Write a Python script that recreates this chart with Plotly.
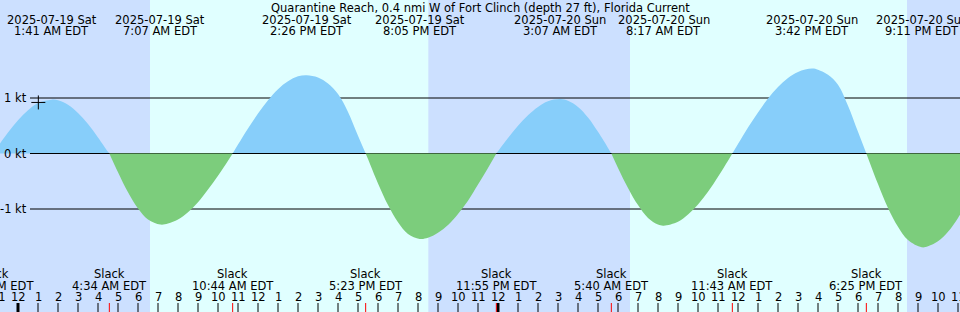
import pandas as pd
import plotly.graph_objects as go

TITLE = "Quarantine Reach, 0.4 nmi W of Fort Clinch (depth 27 ft), Florida Current"
X_START = "2025-07-18 23:06"
X_END = "2025-07-20 23:06"

# half-hourly readings of the current (knots)
sample_times = pd.date_range("2025-07-18 23:00", "2025-07-21 00:00", freq="30min")
speed_kt = [0.13, 0.38, 0.60, 0.78, 0.91, 0.97, 0.96, 0.88, 0.73, 0.53, 0.29, 0.03,
            -0.34, -0.70, -0.99, -1.19, -1.28, -1.26, -1.19, -1.06, -0.88, -0.65, -0.40, -0.13,
            0.16, 0.45, 0.72, 0.96, 1.16, 1.30, 1.39, 1.41, 1.37, 1.26, 1.07, 0.75, 0.32,
            -0.10, -0.54, -0.93, -1.24, -1.45, -1.54, -1.52, -1.43, -1.29, -1.09, -0.85, -0.56, -0.26,
            0.04, 0.28, 0.50, 0.69, 0.84, 0.94, 0.98, 0.95, 0.84, 0.65, 0.39, 0.10,
            -0.26, -0.62, -0.93, -1.16, -1.28, -1.29, -1.23, -1.10, -0.92, -0.69, -0.42, -0.13,
            0.17, 0.47, 0.74, 0.99, 1.20, 1.36, 1.47, 1.53, 1.51, 1.42, 1.24, 0.86, 0.39,
            -0.08, -0.55, -0.98, -1.32, -1.56, -1.68, -1.67, -1.58, -1.41, -1.16, -0.86, -0.52]

# maximum flood / ebb events
extreme_times = ["2025-07-19 01:41", "2025-07-19 07:07", "2025-07-19 14:26", "2025-07-19 20:05",
                 "2025-07-20 03:07", "2025-07-20 08:17", "2025-07-20 15:42", "2025-07-20 21:11"]
extreme_kt = [0.97, -1.28, 1.41, -1.54, 0.98, -1.30, 1.53, -1.69]
extreme_date_labels = ["2025-07-19 Sat", "2025-07-19 Sat", "2025-07-19 Sat", "2025-07-19 Sat",
                       "2025-07-20 Sun", "2025-07-20 Sun", "2025-07-20 Sun", "2025-07-20 Sun"]
extreme_time_labels = ["1:41 AM EDT", "7:07 AM EDT", "2:26 PM EDT", "8:05 PM EDT",
                       "3:07 AM EDT", "8:17 AM EDT", "3:42 PM EDT", "9:11 PM EDT"]

# slack water events
slack_times = ["2025-07-18 22:45", "2025-07-19 04:34", "2025-07-19 10:44", "2025-07-19 17:23",
               "2025-07-19 23:55", "2025-07-20 05:40", "2025-07-20 11:43", "2025-07-20 18:25"]
slack_labels = ["10:45 PM EDT", "4:34 AM EDT", "10:44 AM EDT", "5:23 PM EDT",
                "11:55 PM EDT", "5:40 AM EDT", "11:43 AM EDT", "6:25 PM EDT"]

# sunrise / sunset
sunrise_times = ["2025-07-19 06:36", "2025-07-20 06:36"]
sunset_times = ["2025-07-19 20:31", "2025-07-20 20:27"]

# current-time marker
now_time = "2025-07-19 01:01"
now_kt = 0.92

# hour tick marks
hour_ticks = pd.date_range("2025-07-18 23:00", "2025-07-20 23:00", freq="h")
level_values = [1, 0, -1]
level_labels = ["1 kt", "0 kt", "-1 kt"]

NIGHT = "#cce0ff"
DAY = "#e0ffff"
FLOOD = "#87cefa"
EBB = "#7ccd7c"
FONT = "DejaVu Sans"
FSIZE = 11.5
W, H = 960, 312
LINE_LEFT_PX = 30
Y_RANGE = [-2.856, 2.766]

t0 = pd.Timestamp(X_START)
t1 = pd.Timestamp(X_END)


def px_y(px):
    return 1 - px / H


def paper_x(t):
    return (pd.Timestamp(t) - t0) / (t1 - t0)


# ---- build curve points ----
ext_t = pd.to_datetime(extreme_times)
slk_t = pd.to_datetime(slack_times)
samples = pd.DataFrame({"t": sample_times, "v": speed_kt})
near_ext = samples["t"].apply(lambda t: min(abs(t - e) for e in ext_t) < pd.Timedelta("16min"))
samples = samples[~near_ext]
pts = pd.concat([
    samples,
    pd.DataFrame({"t": ext_t, "v": extreme_kt}),
    pd.DataFrame({"t": slk_t, "v": [0.0] * len(slk_t)}),
]).sort_values("t").drop_duplicates("t").reset_index(drop=True)

bounds = [pts["t"].min()] + list(slk_t) + [pts["t"].max()]

fig = go.Figure()
shapes = []
night_spans = [(X_START, sunrise_times[0]), (sunset_times[0], sunrise_times[1]), (sunset_times[1], X_END)]
for a, b in night_spans:
    shapes.append(dict(type="rect", xref="x", yref="paper", x0=a, x1=b, y0=0, y1=1,
                       fillcolor=NIGHT, line=dict(width=0), layer="below"))
for v in level_values:
    shapes.append(dict(type="line", xref="paper", yref="y", x0=LINE_LEFT_PX / W, x1=1, y0=v, y1=v,
                       line=dict(color="black", width=1), layer="below"))

line_left_t = t0 + (t1 - t0) * (LINE_LEFT_PX / W)
for a, b in zip(bounds[:-1], bounds[1:]):
    seg = pts[(pts["t"] >= a) & (pts["t"] <= b)]
    if len(seg) < 2:
        continue
    flood = seg["v"].mean() > 0
    color = FLOOD if flood else EBB
    fig.add_trace(go.Scatter(
        x=seg["t"], y=seg["v"], mode="lines",
        line=dict(width=0, shape="spline", smoothing=1.0, color=color),
        fill="tozeroy", fillcolor=color, hoverinfo="skip", showlegend=False))
    if flood:
        shapes.append(dict(type="line", xref="x", yref="y", x0=max(a, line_left_t), x1=b, y0=0, y1=0,
                           line=dict(color="black", width=1), layer="above"))

fig.add_trace(go.Scatter(
    x=[now_time], y=[now_kt], mode="markers",
    marker=dict(symbol="cross-thin", size=10, line=dict(width=1, color="black")),
    hoverinfo="skip", showlegend=False))

for t in hour_ticks:
    shapes.append(dict(type="line", xref="x", yref="paper", x0=t, x1=t, y0=0, y1=9 / H,
                       line=dict(color="black", width=3 if t.hour == 0 else 1), layer="above"))
for t in slack_times:
    shapes.append(dict(type="line", xref="x", yref="paper", x0=t, x1=t, y0=0, y1=9 / H,
                       line=dict(color="red", width=1), layer="above"))

ann = []
f = dict(family=FONT, size=FSIZE, color="black")


def label(text, x, ypx, xanchor="center"):
    ann.append(dict(text=text, xref="paper", yref="paper", x=x, y=px_y(ypx), showarrow=False,
                    xanchor=xanchor, yanchor="middle", font=f))


label(TITLE, 0.5, 7.5)
for t, d, s in zip(extreme_times, extreme_date_labels, extreme_time_labels):
    label(d, paper_x(t), 20)
    label(s, paper_x(t), 31.5)
for t, s in zip(slack_times, slack_labels):
    label("Slack", paper_x(t), 274)
    label(s, paper_x(t), 285.5)
for t in hour_ticks:
    label(str(t.hour % 12 or 12), paper_x(t), 297)
for v, s in zip(level_values, level_labels):
    ann.append(dict(text=s, xref="paper", yref="y", x=28.5 / W, y=v, showarrow=False,
                    xanchor="right", yanchor="middle", font=f))

fig.update_layout(
    width=W, height=H, margin=dict(l=0, r=0, t=0, b=0),
    paper_bgcolor=DAY, plot_bgcolor=DAY,
    xaxis=dict(type="date", range=[X_START, X_END], visible=False, showgrid=False, fixedrange=True),
    yaxis=dict(range=Y_RANGE, visible=False, showgrid=False, zeroline=False, fixedrange=True),
    shapes=shapes, annotations=ann, showlegend=False,
)
fig.write_html("out.html", include_plotlyjs=True, config={"displayModeBar": False})
